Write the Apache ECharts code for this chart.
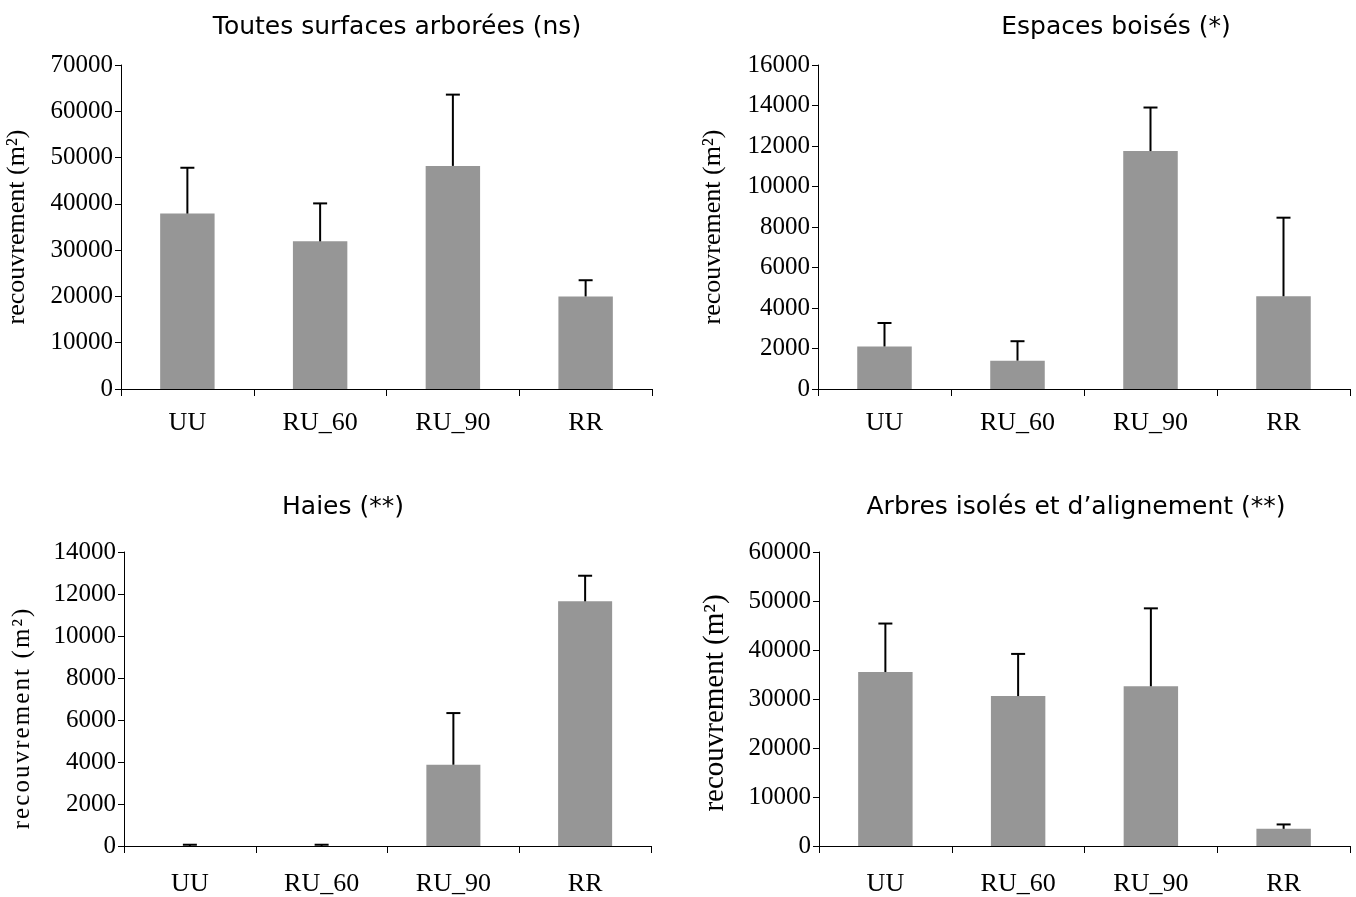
<!DOCTYPE html>
<html>
<head>
<meta charset="utf-8">
<script src="https://cdn.jsdelivr.net/npm/echarts@6/dist/echarts.min.js"></script>
<style>
html,body{margin:0;padding:0;background:#fff;}
#chart{width:1356px;height:897px;}
</style>
</head>
<body>
<div id="chart"></div>
<script>
const categories = ['UU', 'RU_60', 'RU_90', 'RR'];

const titles = [
  'Toutes surfaces arborées (ns)',
  'Espaces boisés (*)',
  'Haies (**)',
  'Arbres isolés et d\u2019alignement (**)'
];

// mean values (bars)
const toutesMean = [37900, 31900, 48200, 20000];
const boisesMean = [2100, 1400, 11750, 4580];
const haiesMean  = [0, 0, 3870, 11650];
const arbresMean = [35500, 30600, 32600, 3500];

// upper end of error bars
const toutesErr = [47800, 40100, 63600, 23500];
const boisesErr = [3260, 2360, 13900, 8460];
const haiesErr  = [60, 60, 6330, 12870];
const arbresErr = [45400, 39200, 48500, 4400];

// y axis settings
const yMax = [70000, 16000, 14000, 60000];
const yInterval = [10000, 2000, 2000, 10000];

const yNames = [
  'recouvrement (m\u00B2)',
  'recouvrement (m\u00B2)',
  'r\u200Ae\u200Ac\u200Ao\u200Au\u200Av\u200Ar\u200Ae\u200Am\u200Ae\u200An\u200At\u200A \u200A(\u200Am\u200A\u00B2\u200A)',
  'recouvrement (m\u00B2)'
];

const means = [toutesMean, boisesMean, haiesMean, arbresMean];
const errs = [toutesErr, boisesErr, haiesErr, arbresErr];

const grids = [
  {left: 121, top: 65, width: 531, height: 324},
  {left: 818, top: 65, width: 532, height: 324},
  {left: 124, top: 552, width: 527, height: 295},
  {left: 819, top: 552, width: 531, height: 295}
];
const titlePos = [
  {x: 392, y: 22},
  {x: 1111, y: 22},
  {x: 338, y: 502},
  {x: 1071, y: 502}
];
const nameGaps = [91, 92, 89, 89];
const nameSizes = [26, 26, 25, 29];
const namePads = [[0, 0, 0, 0], [0, 0, 0, 0], [0, 40, 0, 0], [0, 8, 0, 0]];
const labelMargins = [21, 21, 25, 25];

const serif = "'Liberation Serif', 'Times New Roman', serif";
const titleFont = "'Comic Sans MS', 'DejaVu Sans', sans-serif";

const chart = echarts.init(document.getElementById('chart'), null, {renderer: 'canvas'});

const option = {
  backgroundColor: '#ffffff',
  animation: false,
  title: titles.map((t, i) => ({
    text: t,
    left: titlePos[i].x,
    top: titlePos[i].y,
    textAlign: 'center',
    textVerticalAlign: 'middle',
    textStyle: {fontFamily: titleFont, fontSize: 25, fontWeight: 'normal', color: '#000'}
  })),
  grid: grids.map(g => Object.assign({containLabel: false}, g)),
  xAxis: grids.map((g, i) => ({
    type: 'category',
    gridIndex: i,
    data: categories,
    axisLine: {lineStyle: {color: '#000', width: 1}},
    axisTick: {show: true, length: 7, lineStyle: {color: '#000'}},
    axisLabel: {fontFamily: serif, fontSize: 26, color: '#000', margin: labelMargins[i]},
    splitLine: {show: false}
  })),
  yAxis: grids.map((g, i) => ({
    type: 'value',
    gridIndex: i,
    min: 0,
    max: yMax[i],
    interval: yInterval[i],
    name: yNames[i],
    nameLocation: 'middle',
    nameRotate: 90,
    nameGap: nameGaps[i],
    nameTextStyle: {fontFamily: serif, fontSize: nameSizes[i], color: '#000', padding: namePads[i]},
    axisLine: {show: true, lineStyle: {color: '#000', width: 1}},
    axisTick: {show: true, length: 6, lineStyle: {color: '#000'}},
    axisLabel: {fontFamily: serif, fontSize: 25, color: '#000', margin: 8, formatter: v => String(v)},
    splitLine: {show: false}
  })),
  series: []
};

for (let i = 0; i < 4; i++) {
  option.series.push({
    type: 'bar',
    xAxisIndex: i,
    yAxisIndex: i,
    data: means[i],
    barWidth: '41%',
    itemStyle: {color: '#969696'},
    silent: true
  });
  option.series.push({
    type: 'custom',
    xAxisIndex: i,
    yAxisIndex: i,
    data: categories.map((c, j) => [j, means[i][j], errs[i][j]]),
    encode: {x: 0, y: [1, 2]},
    silent: true,
    z: 5,
    renderItem: function (params, api) {
      const x = api.value(0);
      const base = api.coord([x, api.value(1)]);
      const top = api.coord([x, api.value(2)]);
      const half = 7;
      return {
        type: 'group',
        children: [
          {type: 'line', shape: {x1: base[0], y1: base[1], x2: top[0], y2: top[1]}, style: {stroke: '#000', lineWidth: 2}},
          {type: 'line', shape: {x1: top[0] - half, y1: top[1], x2: top[0] + half, y2: top[1]}, style: {stroke: '#000', lineWidth: 2}}
        ]
      };
    }
  });
}

chart.setOption(option);
</script>
</body>
</html>
